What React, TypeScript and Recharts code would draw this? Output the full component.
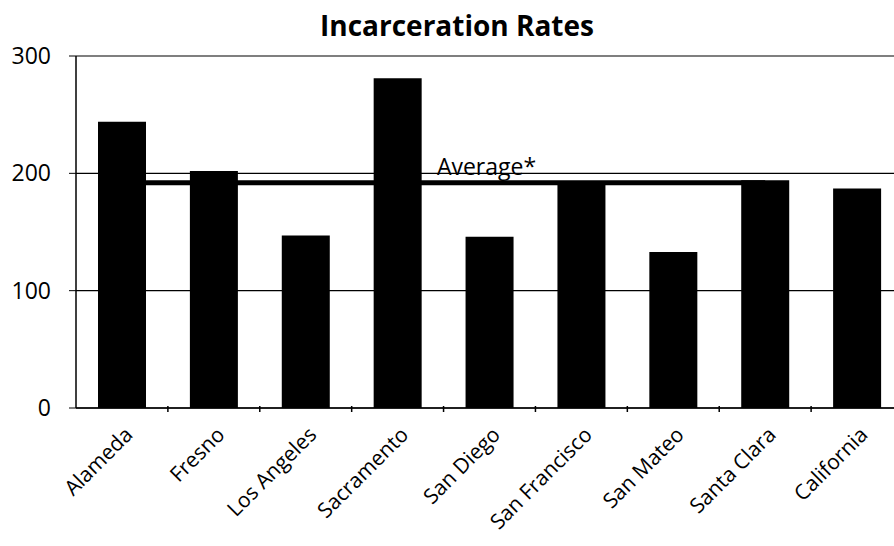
import { ComposedChart, Bar, Line, XAxis, YAxis, CartesianGrid, LabelList } from 'recharts';

const counties = ['Alameda', 'Fresno', 'Los Angeles', 'Sacramento', 'San Diego', 'San Francisco', 'San Mateo', 'Santa Clara', 'California'];
const rates = [244, 202, 147, 281, 146, 192, 133, 194, 187];
// average line runs across the counties only (not the state total)
const average = [192, 192, 192, 192, 192, 192, 192, 192, null];
const yTicks = [0, 100, 200, 300];

const data = counties.map((name, i) => ({ name, rate: rates[i], avg: average[i] }));

const CHART_W = 910;
const CHART_H = 546;
const LEFT = 76;
const RIGHT = 7;
const FONT = '"Open Sans", Lato, sans-serif';

const bandHalf = (CHART_W - LEFT - RIGHT) / counties.length / 2;

const CategoryTick = ({ x, y, payload }: { x?: number; y?: number; payload?: { value: string } }) => {
  if (x == null || y == null || !payload) return null;
  const tx = x + 12;
  const ty = y + 20;
  return (
    <g>
      <line x1={x + bandHalf} x2={x + bandHalf} y1={y - 10} y2={y - 4} stroke="#000" strokeWidth={1.5} />
      <text
        x={tx}
        y={ty}
        textAnchor="end"
        transform={`rotate(-45, ${tx}, ${ty})`}
        fontSize={21}
        fontFamily={FONT}
        fill="#000"
      >
        {payload.value}
      </text>
    </g>
  );
};

const AvgLabel = (props: { x?: number; y?: number; index?: number }) => {
  const { x, y, index } = props;
  if (index !== 4 || x == null || y == null) return null;
  return (
    <text x={x - 3} y={y - 8} textAnchor="middle" fontSize={23} fontFamily={FONT} fill="#000">
      Average*
    </text>
  );
};

export default function App() {
  return (
    <div style={{ position: 'absolute', left: 0, top: 0, width: 894, height: 546, overflow: 'hidden', background: '#fff' }}>
      <div
        style={{
          position: 'absolute',
          top: 6,
          left: 0,
          width: 914,
          textAlign: 'center',
          fontFamily: FONT,
          fontWeight: 700,
          fontSize: 28,
          color: '#000',
          lineHeight: '38px',
        }}
      >
        Incarceration Rates
      </div>
      <ComposedChart
        width={CHART_W}
        height={CHART_H}
        data={data}
        margin={{ top: 56, right: RIGHT, left: 0, bottom: 8 }}
      >
        <CartesianGrid vertical={false} stroke="#000" strokeWidth={1.2} />
        <XAxis
          dataKey="name"
          interval={0}
          height={130}
          axisLine={{ stroke: '#000', strokeWidth: 1.5 }}
          tickLine={false}
          tick={<CategoryTick />}
        />
        <YAxis
          width={LEFT}
          domain={[0, 300]}
          ticks={yTicks}
          axisLine={{ stroke: '#000', strokeWidth: 1.5 }}
          tickLine={{ stroke: '#000' }}
          tickSize={7}
          tickMargin={18}
          tick={{ fontSize: 23, fontFamily: FONT, fill: '#000' }}
        />
        <Bar dataKey="rate" fill="#000" barSize={48} isAnimationActive={false} />
        <Line
          dataKey="avg"
          stroke="#000"
          strokeWidth={5}
          dot={false}
          connectNulls={false}
          isAnimationActive={false}
        >
          <LabelList dataKey="avg" content={<AvgLabel />} />
        </Line>
      </ComposedChart>
    </div>
  );
}
